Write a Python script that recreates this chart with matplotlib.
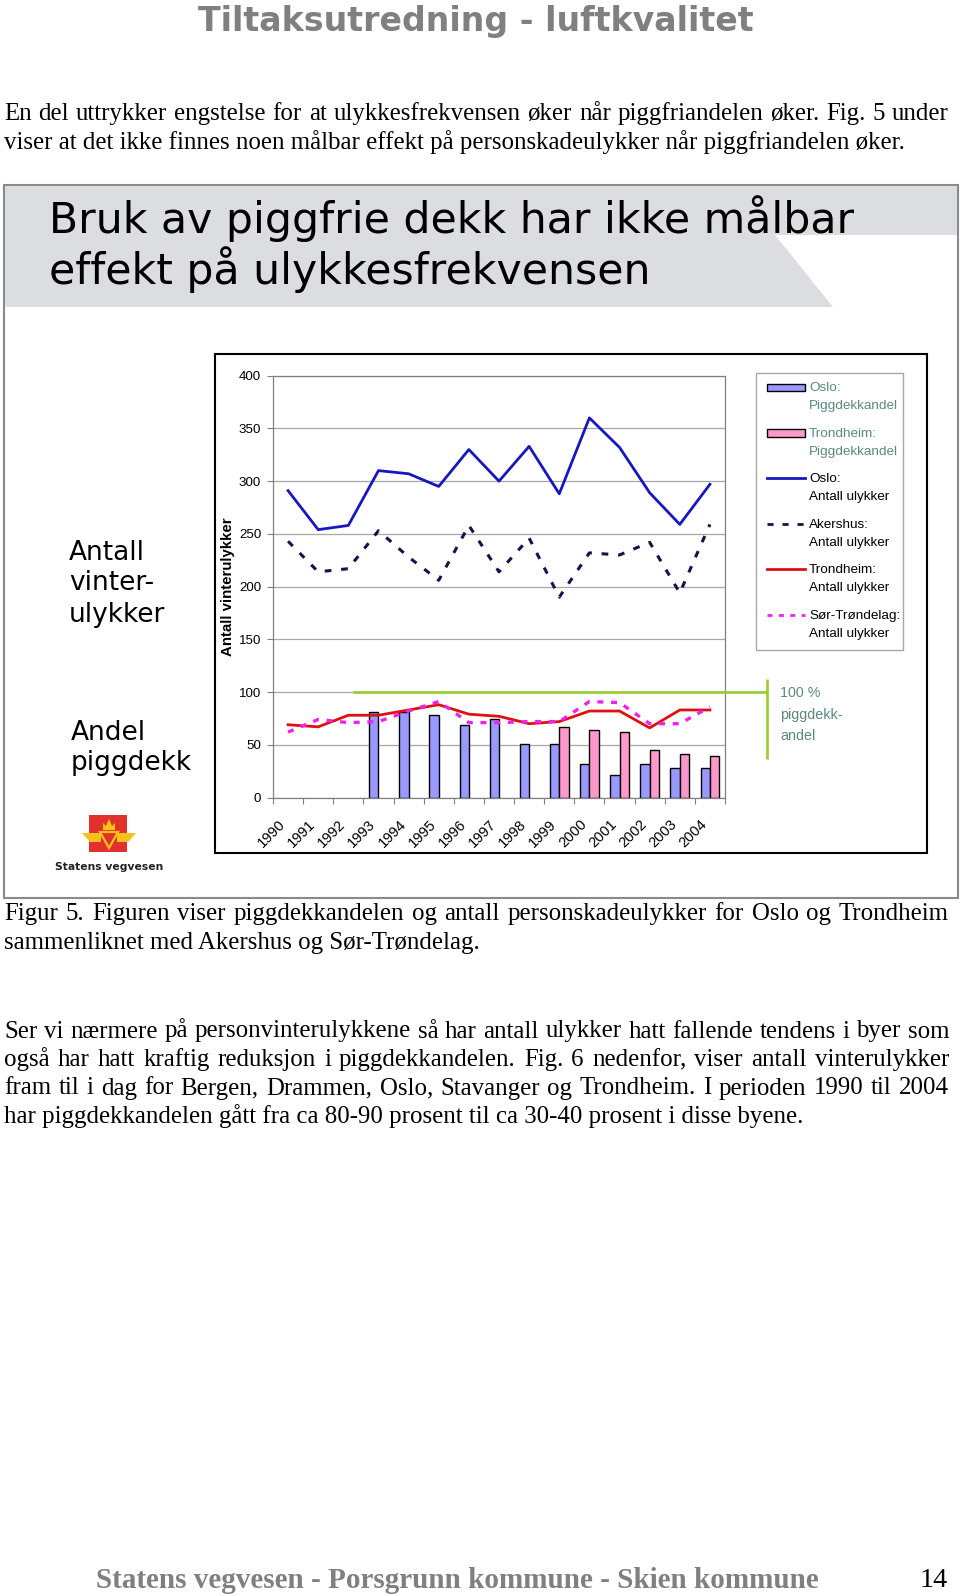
import numpy as np
import matplotlib
matplotlib.use("Agg")
import matplotlib.pyplot as plt
from matplotlib.patches import Rectangle, Polygon
from matplotlib.lines import Line2D

# data
years = ['1990', '1991', '1992', '1993', '1994', '1995', '1996', '1997',
         '1998', '1999', '2000', '2001', '2002', '2003', '2004']
oslo_ulykker = [291, 254, 258, 310, 307, 295, 330, 300, 333, 288, 360, 332, 289, 259, 297]
akershus_ulykker = [243, 214, 217, 253, 228, 206, 258, 214, 246, 190, 232, 230, 242, 194, 259]
trondheim_ulykker = [69, 67, 78, 78, 83, 88, 79, 77, 70, 72, 82, 82, 66, 83, 83]
sortrondelag_ulykker = [62, 74, 71, 72, 82, 91, 71, 71, 72, 72, 91, 90, 70, 70, 86]
oslo_andel = [np.nan, np.nan, np.nan, 81, 81, 78, 69, 74, 51, 51, 32, 21, 32, 28, 28]
trondheim_andel = [np.nan] * 9 + [67, 64, 62, 45, 41, 39]
full_andel = 100

W, H = 960, 1596
SERIF = 'Liberation Serif'
SANS = 'Liberation Sans'
VERD = 'DejaVu Sans'
GREY_GREEN = '#5b8a7b'
BODY = 17.9
MAG_DASH = (0, (1.8, 2.3))
NAVY_DASH = (0, (2.2, 3.2))

fig = plt.figure(figsize=(W / 100, H / 100), dpi=100)
renderer = fig.canvas.get_renderer()


def fx(x):
    return x / W


def fy(y):
    return 1 - y / H


def put(s, x, base, size, family, width=None, **kw):
    t = fig.text(fx(x), fy(base), s, fontsize=size, family=family,
                 va='baseline', ha='left', **kw)
    if width is not None:
        w = t.get_window_extent(renderer=renderer).width
        t.set_fontsize(size * width / w)
    return t


def justify(s, x0, x1, base, size, family=SERIF, **kw):
    words = s.split(' ')
    ts = [put(w, x0, base, size, family, **kw) for w in words]
    ws = [t.get_window_extent(renderer=renderer).width for t in ts]
    gap = (x1 - x0 - sum(ws)) / (len(words) - 1)
    x = x0
    for t, w in zip(ts, ws):
        t.set_x(fx(x))
        x += w + gap


def paragraph(lines, bases, size=BODY, x0=4, x1=949):
    for i, (line, yb) in enumerate(zip(lines, bases)):
        if i == len(lines) - 1:
            put(line, x0, yb, size, SERIF)
        else:
            justify(line, x0, x1, yb, size)


def frect(x0, y0, x1, y1, **kw):
    r = Rectangle((fx(x0), fy(y1)), (x1 - x0) / W, (y1 - y0) / H,
                  transform=fig.transFigure, **kw)
    fig.add_artist(r)
    return r


def fpoly(pts, **kw):
    p = Polygon([(fx(a), fy(b)) for a, b in pts], closed=True,
                transform=fig.transFigure, **kw)
    fig.add_artist(p)
    return p


def fline(xs, ys, **kw):
    ln = Line2D([fx(a) for a in xs], [fy(b) for b in ys],
                transform=fig.transFigure, **kw)
    fig.add_artist(ln)
    return ln


# page header and body text
put('Tiltaksutredning - luftkvalitet', 198, 31.5, 30, VERD, width=556,
    weight='bold', color='#808080')

paragraph(['En del uttrykker engstelse for at ulykkesfrekvensen øker når piggfriandelen øker. Fig. 5 under',
           'viser at det ikke finnes noen målbar effekt på personskadeulykker når piggfriandelen øker.'],
          [120, 148.5])

# slide frame and banner
frect(4, 185, 958, 898, fill=False, edgecolor='#8a8a8a', linewidth=1.5)
fpoly([(5, 186), (957, 186), (957, 235), (775, 235), (833, 307), (5, 307)],
      facecolor='#dcdde0', edgecolor='none')
t1 = put('Bruk av piggfrie dekk har ikke målbar', 49, 233, 30, VERD, width=804)
put('effekt på ulykkesfrekvensen', 49, 284, t1.get_fontsize(), VERD)

# left side labels
t2 = put('Antall', 69, 560, 20, VERD, width=76)
put('vinter-', 69, 590, t2.get_fontsize(), VERD)
put('ulykker', 69, 622.5, t2.get_fontsize(), VERD)
put('Andel', 71, 740, t2.get_fontsize(), VERD)
put('piggdekk', 71, 770, t2.get_fontsize(), VERD)

# logo
frect(89, 815, 127, 852, facecolor='#e2312d', edgecolor='none')
gold = '#f3c21f'
fpoly([(82, 833), (101, 833), (101, 842), (90, 842)], facecolor=gold, edgecolor='none')
fpoly([(117, 833), (136, 833), (128, 842), (117, 842)], facecolor=gold, edgecolor='none')
fpoly([(100, 832), (118, 832), (109, 848)], facecolor='#e2312d', edgecolor=gold, linewidth=1.6)
fpoly([(103, 830), (103, 823), (106, 826), (109, 819), (112, 826), (115, 823), (115, 830)],
      facecolor=gold, edgecolor='none')
put('Statens vegvesen', 55, 869.5, 9, VERD, width=108, weight='bold', color='#222222')

# chart frame
frect(214.5, 354, 926.5, 852.5, fill=False, edgecolor='black', linewidth=1.5)

ax = fig.add_axes([fx(273), fy(797.5), 452 / W, 421.8 / H])
x = np.arange(len(years))
bw = 0.31
ax.bar(x - bw, oslo_andel, bw, align='edge', color='#9999ff', edgecolor='black',
       linewidth=1, zorder=2)
ax.bar(x, trondheim_andel, bw, align='edge', color='#ff99cc', edgecolor='black',
       linewidth=1, zorder=2)
ax.plot(x, oslo_ulykker, color='#1717bf', lw=2.0, zorder=3)
ax.plot(x, akershus_ulykker, color='#14144a', lw=2.2, ls=NAVY_DASH, zorder=3)
ax.plot(x, trondheim_ulykker, color='#dd1111', lw=2.0, zorder=3)
ax.plot(x, sortrondelag_ulykker, color='#ee22ee', lw=2.4, ls=MAG_DASH, zorder=4)

ax.set_xlim(-0.5, len(years) - 0.5)
ax.set_ylim(0, 400)
ax.set_yticks(np.arange(0, 401, 50))
ax.yaxis.grid(True, color='#a6a6a6', linewidth=0.9)
ax.set_axisbelow(True)
ax.set_xticks(np.arange(-0.5, len(years), 1))
ax.set_xticklabels([])
ax.set_xticks(x, minor=True)
ax.set_xticklabels(years, minor=True, rotation=45, ha='right', va='top',
                   family=SANS, fontsize=10.5)
ax.tick_params(axis='x', which='major', length=4, color='#808080')
ax.tick_params(axis='x', which='minor', length=0, pad=14)
ax.tick_params(axis='y', length=4, color='#808080', labelsize=9.6, pad=4.5)
for lab in ax.get_yticklabels():
    lab.set_family(SANS)
for sp in ax.spines.values():
    sp.set_color('#808080')
    sp.set_linewidth(0.9)
ax.set_ylabel('Antall vinterulykker', family=SANS, weight='bold', fontsize=10.8)
ax.yaxis.set_label_coords(-0.083, 0.5)

# 100 % line going out to the side note
fig.canvas.draw()
x_start = ax.transData.transform((2.15, full_andel))
y100 = H - x_start[1]
fline([x_start[0], 767], [y100, y100], color='#99cc33', lw=1.9, solid_capstyle='butt')
fline([767, 767], [679, 759], color='#99cc33', lw=1.9, solid_capstyle='butt')
for i, s in enumerate(['100 %', 'piggdekk-', 'andel']):
    put(s, 780, 697 + 21.5 * i, 10.3, SANS, color=GREY_GREEN)

# legend drawn by hand
frect(756, 373, 903, 650, facecolor='white', edgecolor='#a8a8a8', linewidth=1)
legend_rows = [
    ('patch', '#9999ff', None, 'Oslo:', 'Piggdekkandel', GREY_GREEN),
    ('patch', '#ff99cc', None, 'Trondheim:', 'Piggdekkandel', GREY_GREEN),
    ('line', '#1717bf', '-', 'Oslo:', 'Antall ulykker', 'black'),
    ('line', '#14144a', NAVY_DASH, 'Akershus:', 'Antall ulykker', 'black'),
    ('line', '#dd1111', '-', 'Trondheim:', 'Antall ulykker', 'black'),
    ('line', '#ee22ee', MAG_DASH, 'Sør-Trøndelag:', 'Antall ulykker', 'black'),
]
for i, (kind, col, ls, l1, l2, tcol) in enumerate(legend_rows):
    yc = 387 + 45.6 * i
    if kind == 'patch':
        frect(767, yc - 3.5, 805, yc + 4, facecolor=col, edgecolor='black', linewidth=1)
    else:
        fline([767, 805], [yc, yc], color=col, lw=2.0, ls=ls)
    put(l1, 809, yc + 4, 9.7, SANS, color=tcol)
    put(l2, 809, yc + 22, 9.7, SANS, color=tcol)

# caption and second paragraph
paragraph(['Figur 5. Figuren viser piggdekkandelen og antall personskadeulykker for Oslo og Trondheim',
           'sammenliknet med Akershus og Sør-Trøndelag.'],
          [920, 949.5])
paragraph(['Ser vi nærmere på personvinterulykkene så har antall ulykker hatt fallende tendens i byer som',
           'også har hatt kraftig reduksjon i piggdekkandelen. Fig. 6 nedenfor, viser antall vinterulykker',
           'fram til i dag for Bergen, Drammen, Oslo, Stavanger og Trondheim. I perioden 1990 til 2004',
           'har piggdekkandelen gått fra ca 80-90 prosent til ca 30-40 prosent i disse byene.'],
          [1037.5, 1066, 1094.5, 1123])

# footer
put('Statens vegvesen - Porsgrunn kommune - Skien kommune', 96, 1588, 20, SERIF,
    width=722, weight='bold', color='#808080')
put('14', 920, 1587, 20, SERIF, width=28)

fig.savefig('out.png', dpi=100)
